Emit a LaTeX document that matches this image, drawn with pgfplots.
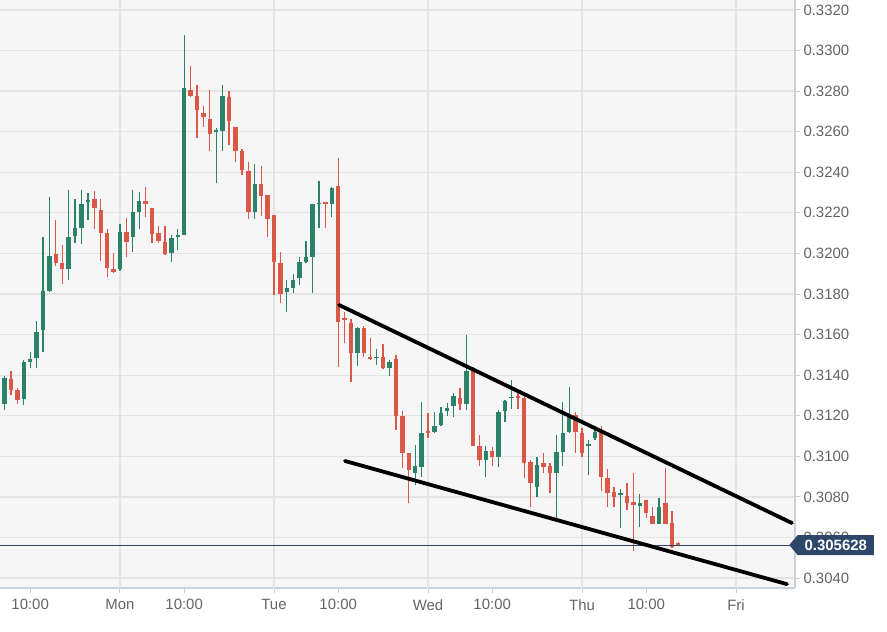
\documentclass[border=0pt]{standalone}
\usepackage{pgfplots}
\pgfplotsset{compat=1.18}
\usepackage{pgfplotstable}
\usepackage{fontspec}
\setmainfont{Liberation Sans}
\usetikzlibrary{shapes.symbols}
\definecolor{cgreen}{RGB}{44,130,104}
\definecolor{cred}{RGB}{217,88,72}
\definecolor{plotbg}{RGB}{246,246,246}
\definecolor{gridc}{RGB}{228,228,228}
\definecolor{axisc}{RGB}{200,210,222}
\definecolor{labc}{RGB}{100,100,100}
\definecolor{navy}{RGB}{46,70,106}

% hourly candles, t = hours from Monday 00:00
\pgfplotstableread{
t o h l c
-18 0.31257 0.31395 0.31228 0.31386
-15 0.31282 0.31474 0.31252 0.31464
-14 0.31464 0.31514 0.31435 0.31479
-13 0.31484 0.31667 0.31435 0.31612
-12 0.31622 0.32081 0.31514 0.31814
-11 0.31814 0.32278 0.31809 0.31987
-8 0.31923 0.32312 0.31869 0.32081
-7 0.32085 0.32268 0.32051 0.32125
-6 0.32125 0.32312 0.32046 0.32243
-5 0.32253 0.32298 0.32164 0.32263
0 0.31923 0.32145 0.31913 0.32105
2 0.32081 0.32312 0.32007 0.32204
3 0.32204 0.32302 0.32120 0.32258
8 0.32002 0.32090 0.31957 0.32076
9 0.32081 0.32120 0.32017 0.32090
10 0.32090 0.33077 0.32090 0.32816
15 0.32599 0.32618 0.32347 0.32608
16 0.32603 0.32830 0.32505 0.32776
21 0.32204 0.32441 0.32169 0.32342
26 0.31809 0.31869 0.31711 0.31829
27 0.31829 0.31898 0.31805 0.31869
28 0.31878 0.31982 0.31844 0.31957
29 0.31957 0.32061 0.31952 0.31982
30 0.31982 0.32243 0.31805 0.32243
31 0.32243 0.32357 0.32125 0.32248
33 0.32243 0.32327 0.32179 0.32322
37 0.31509 0.31637 0.31445 0.31632
40 0.31484 0.31529 0.31450 0.31489
42 0.31435 0.31474 0.31395 0.31464
46 0.30917 0.31055 0.30858 0.30952
47 0.30947 0.31267 0.30897 0.31114
49 0.31119 0.31218 0.31114 0.31149
50 0.31154 0.31243 0.31149 0.31213
51 0.31223 0.31262 0.31198 0.31238
52 0.31247 0.31312 0.31193 0.31297
54 0.31257 0.31598 0.31228 0.31420
57 0.30981 0.31050 0.30897 0.31026
59 0.30996 0.31228 0.30947 0.31218
60 0.31223 0.31277 0.31169 0.31272
61 0.31287 0.31376 0.31233 0.31292
65 0.30848 0.30996 0.30799 0.30957
68 0.30917 0.31104 0.30686 0.31021
69 0.31021 0.31267 0.30952 0.31114
70 0.31119 0.31341 0.31114 0.31203
73 0.31050 0.31080 0.30907 0.31060
74 0.31090 0.31129 0.31080 0.31119
78 0.30809 0.30838 0.30646 0.30819
81 0.30755 0.30814 0.30651 0.30769
84 0.30666 0.30794 0.30666 0.30750
}\greendata

\pgfplotstableread{
t o h l c
-19 0.31336 0.31361 0.31243 0.31267
-17 0.31381 0.31420 0.31302 0.31326
-16 0.31326 0.31336 0.31257 0.31277
-10 0.31997 0.32164 0.31938 0.31952
-9 0.31952 0.32041 0.31849 0.31923
-4 0.32268 0.32307 0.32120 0.32224
-3 0.32214 0.32268 0.31962 0.32100
-2 0.32100 0.32120 0.31883 0.31928
-1 0.31923 0.32002 0.31903 0.31908
1 0.32105 0.32174 0.31982 0.32056
4 0.32258 0.32327 0.32179 0.32243
5 0.32224 0.32224 0.32051 0.32095
6 0.32100 0.32135 0.32051 0.32061
7 0.32056 0.32135 0.31992 0.31997
11 0.32806 0.32924 0.32771 0.32776
12 0.32776 0.32830 0.32569 0.32707
13 0.32692 0.32727 0.32623 0.32672
14 0.32663 0.32806 0.32505 0.32589
17 0.32771 0.32801 0.32534 0.32653
18 0.32623 0.32623 0.32451 0.32505
19 0.32505 0.32515 0.32386 0.32411
20 0.32406 0.32451 0.32169 0.32204
22 0.32342 0.32431 0.32184 0.32283
23 0.32288 0.32288 0.32081 0.32169
24 0.32189 0.32189 0.31795 0.31957
25 0.31952 0.32007 0.31755 0.31800
32 0.32253 0.32253 0.32125 0.32243
34 0.32332 0.32470 0.31440 0.31662
35 0.31681 0.31711 0.31558 0.31671
36 0.31657 0.31676 0.31366 0.31509
38 0.31632 0.31642 0.31489 0.31509
39 0.31489 0.31583 0.31474 0.31479
41 0.31489 0.31553 0.31430 0.31435
43 0.31479 0.31499 0.31129 0.31198
44 0.31198 0.31223 0.30942 0.31016
45 0.31016 0.31016 0.30769 0.30932
48 0.31124 0.31213 0.31090 0.31114
53 0.31287 0.31336 0.31228 0.31257
55 0.31425 0.31440 0.31050 0.31050
56 0.31050 0.31104 0.30952 0.30981
58 0.31026 0.31045 0.30952 0.30996
62 0.31297 0.31312 0.31233 0.31287
63 0.31287 0.31307 0.30893 0.30966
64 0.30971 0.30981 0.30750 0.30868
66 0.30966 0.31016 0.30917 0.30947
67 0.30952 0.30966 0.30819 0.30917
71 0.31203 0.31218 0.31016 0.31119
72 0.31114 0.31139 0.30996 0.31016
75 0.31119 0.31149 0.30829 0.30897
76 0.30893 0.30937 0.30750 0.30819
77 0.30824 0.30848 0.30750 0.30799
79 0.30804 0.30868 0.30735 0.30769
80 0.30774 0.30917 0.30533 0.30760
82 0.30784 0.30784 0.30696 0.30720
83 0.30705 0.30750 0.30666 0.30666
85 0.30769 0.30942 0.30666 0.30666
86 0.30671 0.30730 0.30547 0.30552
87 0.30572 0.30577 0.30557 0.30563
}\reddata

\begin{document}
\begin{tikzpicture}
\useasboundingbox (0,0) rectangle (887bp,-632bp);
\begin{axis}[
  at={(0,0)}, anchor=north west,
  scale only axis, width=795bp, height=588bp,
  xmin=-18.70, xmax=105.19, ymin=0.30351, ymax=0.33249,
  axis x line*=bottom, axis y line*=right,
  axis line style={draw=axisc, line width=1.2bp},
  axis background/.style={fill=plotbg},
  xtick={-14,0,10,24,34,48,58,72,82,96},
  xticklabels={10:00,Mon,10:00,Tue,10:00,Wed,10:00,Thu,10:00,Fri},
  extra x ticks={0,24,48,72,96}, extra x tick labels={},
  extra x tick style={grid=major},
  ytick={0.304,0.306,0.308,0.310,0.312,0.314,0.316,0.318,0.320,0.322,0.324,0.326,0.328,0.330,0.332},
  ymajorgrids,
  grid style={draw=gridc, line width=1.3bp},
  scaled y ticks=false,
  yticklabel style={/pgf/number format/.cd, fixed, fixed zerofill, precision=4},
  /pgf/number format/assume math mode=true,
  tick align=outside, major tick length=5bp,
  tick style={draw=axisc, line width=1bp},
  tick label style={font=\fontsize{15}{18}\selectfont, text=labc},
  xticklabel style={yshift=-3bp},
  candle/.style={draw=none, mark=none, forget plot,
    error bars/y dir=plus, error bars/y explicit, error bars/error mark=none},
]
% wicks
\addplot[candle, error bars/error bar style={draw=cgreen, line width=1.3bp}]
  table[x=t, y=l, y error expr=\thisrow{h}-\thisrow{l}] {\greendata};
\addplot[candle, error bars/error bar style={draw=cred, line width=1.3bp}]
  table[x=t, y=l, y error expr=\thisrow{h}-\thisrow{l}] {\reddata};
% bodies
\addplot[candle, error bars/error bar style={draw=cgreen, line width=4.4bp}]
  table[x=t, y=o, y error expr=\thisrow{c}-\thisrow{o}] {\greendata};
\addplot[candle, error bars/error bar style={draw=cred, line width=4.4bp}]
  table[x=t, y=c, y error expr=\thisrow{o}-\thisrow{c}] {\reddata};
% current price line
\addplot[navy, line width=1bp, forget plot] coordinates {(-18.70,0.305628) (105.19,0.305628)};
% trend lines
\addplot[black, line width=3.8bp, line cap=round, forget plot] coordinates {(34.13,0.31746) (104.72,0.30671)};
\addplot[black, line width=3.8bp, line cap=round, forget plot] coordinates {(35.06,0.30977) (103.94,0.30370)};
\coordinate (pl) at (axis cs:105.19,0.305628);
\end{axis}
\node[signal, signal to=west, signal pointer angle=100, fill=navy, text=white,
  font=\bfseries\fontsize{15}{18}\selectfont, anchor=west, inner xsep=7bp, inner ysep=2bp,
  minimum height=20bp] at ([xshift=-6bp]pl) {0.305628};
\end{tikzpicture}
\end{document}
